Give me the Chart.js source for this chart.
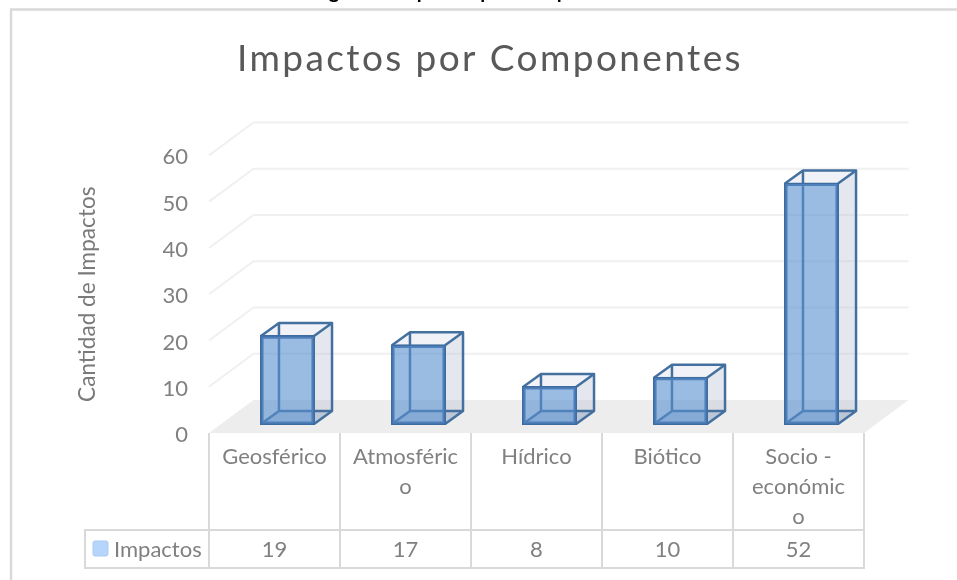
<!DOCTYPE html>
<html><head><meta charset="utf-8">
<style>html,body{margin:0;padding:0;background:#fff}#w{position:relative;width:957px;height:580px}canvas{display:block}</style>
<script src="https://cdn.jsdelivr.net/npm/chart.js@4"></script>
</head><body><div id="w"><canvas id="c" width="957" height="580"></canvas></div>
<script>
const categories = ["Geosférico","Atmosférico","Hídrico","Biótico","Socio - económico"];
const wrappedLabels = [["Geosférico"],["Atmosféric","o"],["Hídrico"],["Biótico"],["Socio -","económic","o"]];
const impactos = [19,17,8,10,52];
const yTicks = [0,10,20,30,40,50,60];
const seriesName = "Impactos";
const chartTitle = "Impactos por Componentes";
const yTitle = "Cantidad de Impactos";
const captionText = "Figura 8. Impactos por Componentes";

const FONT = "Lato";
const TEXT_GREY = "#808080";
const WALL = {dx:44.5, dy:-33};      // depth of the floor
const BAR_FRONT = {dx:13, dy:-9};    // front face of each box
const BAR_DEPTH = {dx:18, dy:-13};   // depth of each box

const scene = {
  id:"scene",
  afterLayout(chart){
    const t=chart.titleBlock;
    t.left=24; t.right=956;
    if(!t._spaced){
      const d=t.draw; t._spaced=true;
      t.draw=function(){ const c=chart.ctx; c.letterSpacing="2.4px"; d.apply(t,arguments); c.letterSpacing="0px"; };
    }
    const ys=chart.scales.y;
    if(!ys._nudged){
      const dl=ys.drawLabels; ys._nudged=true;
      ys.drawLabels=function(){ const c=chart.ctx; c.save(); c.translate(0,2); dl.apply(ys,arguments); c.restore(); };
    }
  },
  beforeDraw(chart){
    const {ctx,scales:{x,y}} = chart;
    ctx.save();
    ctx.fillStyle="#fff"; ctx.fillRect(0,0,957,580);
    // chart frame
    ctx.strokeStyle="#D9D9D9"; ctx.lineWidth=2.5;
    ctx.beginPath(); ctx.moveTo(11,580); ctx.lineTo(11,9.5); ctx.lineTo(957,9.5); ctx.stroke();
    // caption cut off by the crop
    ctx.fillStyle="#000"; ctx.font="bold 20px "+FONT; ctx.textAlign="center"; ctx.textBaseline="alphabetic";
    ctx.fillText(captionText,476,-2);
    const L=x.left,R=x.right,Y0=y.getPixelForValue(0);
    // floor
    ctx.fillStyle="#EDEDED";
    ctx.beginPath(); ctx.moveTo(L,Y0); ctx.lineTo(L+WALL.dx,Y0+WALL.dy); ctx.lineTo(R+WALL.dx,Y0+WALL.dy); ctx.lineTo(R,Y0); ctx.closePath(); ctx.fill();
    // gridlines
    ctx.strokeStyle="#F0F0F0"; ctx.lineWidth=2;
    yTicks.forEach(v=>{ if(v===0) return;
      const p=y.getPixelForValue(v);
      ctx.beginPath(); ctx.moveTo(L,p); ctx.lineTo(L+WALL.dx,p+WALL.dy); ctx.lineTo(R+WALL.dx,p+WALL.dy); ctx.stroke();
    });
    // data table
    ctx.strokeStyle="#D9D9D9"; ctx.lineWidth=2;
    const rowT=530,rowB=568;
    ctx.beginPath();
    for(let i=0;i<=categories.length;i++){
      const px=L+(R-L)*i/categories.length;
      ctx.moveTo(px,Y0); ctx.lineTo(px,rowB);
    }
    ctx.moveTo(85,rowT); ctx.lineTo(R,rowT);
    ctx.moveTo(85,rowT-1); ctx.lineTo(85,rowB); ctx.lineTo(R+1,rowB);
    ctx.stroke();
    ctx.fillStyle=TEXT_GREY; ctx.font="22px "+FONT; ctx.textAlign="center"; ctx.textBaseline="middle";
    impactos.forEach((v,i)=>ctx.fillText(String(v),x.getPixelForValue(i),549.5));
    ctx.fillStyle="#B5D5FB"; ctx.strokeStyle="#A9CBF3"; ctx.lineWidth=1;
    ctx.beginPath(); ctx.roundRect(93,541,15,15,2); ctx.fill(); ctx.stroke();
    ctx.fillStyle=TEXT_GREY; ctx.textAlign="left";
    ctx.fillText(seriesName,114,549.5);
    ctx.restore();
  },
  beforeDatasetsDraw(chart){
    const {ctx}=chart, bars=chart.getDatasetMeta(0).data;
    ctx.save();
    ctx.translate(BAR_FRONT.dx,BAR_FRONT.dy);
    const d=BAR_DEPTH;
    bars.forEach(b=>{
      const l=b.x-b.width/2,r=b.x+b.width/2,t=b.y,bm=b.base;
      // right face
      ctx.fillStyle="rgba(190,198,212,0.42)";
      ctx.beginPath(); ctx.moveTo(r,t); ctx.lineTo(r+d.dx,t+d.dy); ctx.lineTo(r+d.dx,bm+d.dy); ctx.lineTo(r,bm); ctx.closePath(); ctx.fill();
      // top face
      ctx.fillStyle="rgba(205,212,228,0.30)";
      ctx.beginPath(); ctx.moveTo(l,t); ctx.lineTo(l+d.dx,t+d.dy); ctx.lineTo(r+d.dx,t+d.dy); ctx.lineTo(r,t); ctx.closePath(); ctx.fill();
      // bottom face
      ctx.fillStyle="rgba(120,150,190,0.30)";
      ctx.beginPath(); ctx.moveTo(l,bm); ctx.lineTo(l+d.dx,bm+d.dy); ctx.lineTo(r+d.dx,bm+d.dy); ctx.lineTo(r,bm); ctx.closePath(); ctx.fill();
      // hidden edges
      ctx.strokeStyle="#44709F"; ctx.lineWidth=2.5; ctx.lineJoin="round";
      ctx.beginPath();
      ctx.moveTo(l,t); ctx.lineTo(l+d.dx,t+d.dy); ctx.lineTo(r+d.dx,t+d.dy); ctx.lineTo(r,t);
      ctx.moveTo(l+d.dx,t+d.dy); ctx.lineTo(l+d.dx,bm+d.dy); ctx.lineTo(r+d.dx,bm+d.dy); ctx.lineTo(r+d.dx,t+d.dy);
      ctx.moveTo(l,bm); ctx.lineTo(l+d.dx,bm+d.dy);
      ctx.moveTo(r,bm); ctx.lineTo(r+d.dx,bm+d.dy);
      ctx.stroke();
    });
  },
  afterDatasetsDraw(chart){ chart.ctx.restore(); }
};

new Chart(document.getElementById("c"),{
  type:"bar",
  data:{labels:categories,datasets:[{
    label:seriesName,data:impactos,
    backgroundColor:"rgba(88,143,207,0.6)",borderColor:"#3F6CA0",borderWidth:1.6,borderSkipped:false,inflateAmount:1,
    barPercentage:0.405,categoryPercentage:1,clip:false
  }]},
  options:{
    responsive:false,animation:false,
    layout:{padding:{left:24,right:93,top:0,bottom:0}},
    plugins:{
      legend:{display:false},tooltip:{enabled:false},
      title:{display:true,text:chartTitle,color:"#595959",
        font:{family:FONT,size:37,weight:"normal"},padding:{top:37,bottom:74}}
    },
    scales:{
      x:{grid:{display:false},border:{display:false},
        afterFit(s){s.height=147;},
        ticks:{autoSkip:false,maxRotation:0,minRotation:0,padding:1,color:TEXT_GREY,
          font:{family:FONT,size:22,lineHeight:30/22},
          callback(v,i){return wrappedLabels[i];}}},
      y:{min:0,max:60,grid:{display:false,drawTicks:false},border:{display:false},
        afterFit(s){s.width=185;},
        afterBuildTicks(s){s.ticks=yTicks.map(v=>({value:v}));},
        title:{display:true,text:yTitle,color:"#7A7A7A",font:{family:FONT,size:22.6},padding:{top:50,bottom:0}},
        ticks:{padding:21,color:TEXT_GREY,font:{family:FONT,size:22}}}
    }
  },
  plugins:[scene]
});
</script></body></html>
